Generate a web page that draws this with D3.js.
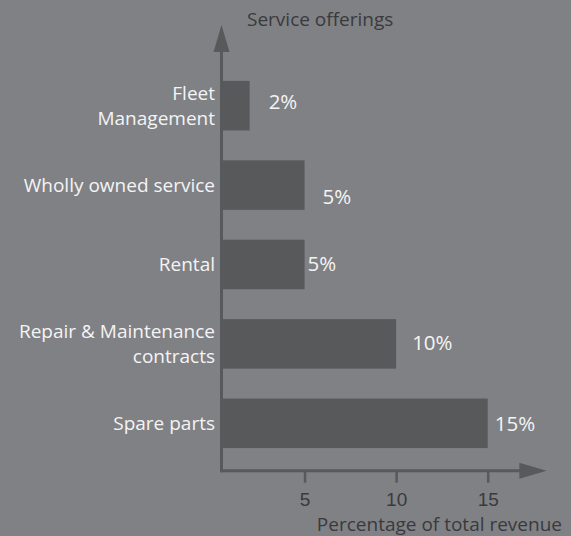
<!DOCTYPE html>
<html>
<head>
<meta charset="utf-8">
<script src="https://cdn.jsdelivr.net/npm/d3@7"></script>
<style>
  body { margin: 0; background: #808185; }
  svg { display: block; font-family: "Open Sans", sans-serif; }
  .cat-label { fill: #f4f4f4; font-size: 19px; }
  .value-label { fill: #f4f4f4; font-size: 20.5px; }
  .axis-title, .x-axis text { fill: #3a3a3c; font-size: 19px; }
</style>
</head>
<body>
<div id="chart"></div>
<script>
// chart data
const categories = ["Fleet Management", "Wholly owned service", "Rental", "Repair & Maintenance contracts", "Spare parts"];
const categoryLines = [["Fleet", "Management"], ["Wholly owned service"], ["Rental"], ["Repair & Maintenance", "contracts"], ["Spare parts"]];
const values = [2, 5, 5, 10, 15];
const valueLabels = ["2%", "5%", "5%", "10%", "15%"];
const xTicks = [5, 10, 15];
const yTitle = "Service offerings";
const xTitle = "Percentage of total revenue";

// the value labels are placed by hand in the original, so nudge them a bit
const labelNudge = [[19, 3], [18, 19], [3, 6], [16, 6], [7, 8]];

const width = 571, height = 536;
const axisColor = "#58595b";
const barColor = "#58595b";

const svg = d3.select("#chart").append("svg")
    .attr("width", width)
    .attr("height", height);

svg.append("rect")
    .attr("width", width)
    .attr("height", height)
    .attr("fill", "#808185");

const originX = 221.5, originY = 470.7;

const x = d3.scaleLinear()
    .domain([0, 15])
    .range([213, 487.7]);

const y = d3.scaleBand()
    .domain(categories)
    .range([66, 463])
    .paddingInner(0.376)
    .paddingOuter(0.188);

// bars
svg.selectAll(".bar")
    .data(values)
    .join("rect")
    .attr("class", "bar")
    .attr("x", originX)
    .attr("y", (d, i) => y(categories[i]))
    .attr("width", d => x(d) - originX)
    .attr("height", y.bandwidth())
    .attr("fill", barColor);

// value labels
svg.selectAll(".value-label")
    .data(values)
    .join("text")
    .attr("class", "value-label")
    .attr("x", (d, i) => x(d) + labelNudge[i][0])
    .attr("y", (d, i) => y(categories[i]) + y.bandwidth() / 2 + labelNudge[i][1])
    .text((d, i) => valueLabels[i]);

// category labels, right aligned against the y axis
const catLabel = svg.selectAll(".cat-label")
    .data(categories)
    .join("text")
    .attr("class", "cat-label")
    .attr("text-anchor", "end")
    .attr("transform", d => `translate(215,${y(d) + y.bandwidth() / 2})`);

catLabel.selectAll("tspan")
    .data((d, i) => categoryLines[i].map((t, j, arr) => ({t, j, n: arr.length})))
    .join("tspan")
    .attr("x", 0)
    .attr("y", d => 6.5 + (d.j - (d.n - 1) / 2) * 25)
    .text(d => d.t);

// x axis ticks + labels
const xAxis = d3.axisBottom(x)
    .tickValues(xTicks)
    .tickSizeInner(12)
    .tickSizeOuter(0)
    .tickPadding(9.5);

const xAxisG = svg.append("g")
    .attr("class", "axis x-axis")
    .attr("transform", `translate(0,${originY})`)
    .call(xAxis)
    .call(g => g.select(".domain").remove());

xAxisG.selectAll(".tick line")
    .attr("stroke", axisColor)
    .attr("stroke-width", 2.5);

xAxisG.selectAll(".tick text")
    .attr("font-family", null)
    .attr("font-size", null);

// axis lines with arrow heads
svg.append("line")
    .attr("x1", originX).attr("x2", originX)
    .attr("y1", 50).attr("y2", originY + 1.5)
    .attr("stroke", axisColor)
    .attr("stroke-width", 3);

svg.append("line")
    .attr("x1", originX - 1.5).attr("x2", 521)
    .attr("y1", originY).attr("y2", originY)
    .attr("stroke", axisColor)
    .attr("stroke-width", 3);

svg.append("path")
    .attr("d", `M${originX},25 L${originX - 8},52 L${originX + 8},52 Z`)
    .attr("fill", axisColor);

svg.append("path")
    .attr("d", `M546.7,${originY} L519.3,${originY - 8} L519.3,${originY + 8} Z`)
    .attr("fill", axisColor);

// axis titles
svg.append("text")
    .attr("class", "axis-title")
    .attr("x", 247)
    .attr("y", 26)
    .text(yTitle);

svg.append("text")
    .attr("class", "axis-title")
    .attr("x", 562)
    .attr("y", 531)
    .attr("text-anchor", "end")
    .text(xTitle);
</script>
</body>
</html>
